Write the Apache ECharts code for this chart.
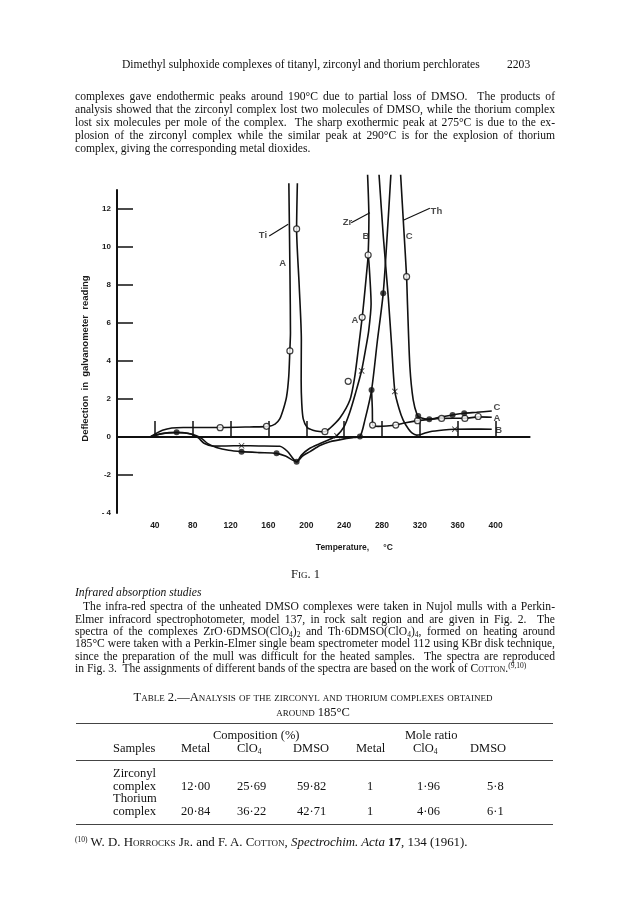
<!DOCTYPE html>
<html><head><meta charset="utf-8">
<script src="https://cdn.jsdelivr.net/npm/echarts@6/dist/echarts.min.js"></script>
<style>
html,body{margin:0;padding:0;background:#fff;}
#page{position:relative;width:624px;height:912px;overflow:hidden;font-family:"Liberation Serif","Times New Roman",serif;color:#111;}
#chart{position:absolute;left:0;top:0;width:624px;height:912px;}
.t{position:absolute;font-size:11.6px;line-height:13px;white-space:nowrap;}
.j{text-align:justify;text-align-last:justify;white-space:nowrap;}
.sc{font-variant:small-caps;}
.rule{position:absolute;left:76px;width:477px;height:0;border-top:1px solid #444;}
.tb{font-size:12.5px;}
.cap{font-size:12.5px;}
sub{font-size:7.5px;vertical-align:-2px;line-height:0;}
sup{font-size:7.5px;vertical-align:4px;line-height:0;}
</style></head>
<body>
<div id="page">
<div id="chart"></div>

<div class="t" style="top:58px;left:122px;">Dimethyl sulphoxide complexes of titanyl, zirconyl and thorium perchlorates</div>
<div class="t" style="top:58px;left:507px;">2203</div>

<div class="t j" style="top:90px;left:75px;width:480px;">complexes gave endothermic peaks around 190°C due to partial loss of DMSO.&nbsp; The products of</div>
<div class="t j" style="top:103px;left:75px;width:480px;">analysis showed that the zirconyl complex lost two molecules of DMSO, while the thorium complex</div>
<div class="t j" style="top:116px;left:75px;width:480px;">lost six molecules per mole of the complex.&nbsp; The sharp exothermic peak at 275°C is due to the ex-</div>
<div class="t j" style="top:129px;left:75px;width:480px;">plosion of the zirconyl complex while the similar peak at 290°C is for the explosion of thorium</div>
<div class="t" style="top:142px;left:75px;">complex, giving the corresponding metal dioxides.</div>

<div class="t sc cap" style="top:568px;left:291px;">Fig. 1</div>
<div class="t" style="top:586px;left:75px;font-style:italic;">Infrared absorption studies</div>
<div class="t j" style="top:600px;left:83px;width:472px;">The infra-red spectra of the unheated DMSO complexes were taken in Nujol mulls with a Perkin-</div>
<div class="t j" style="top:613px;left:75px;width:480px;">Elmer infracord spectrophotometer, model 137, in rock salt region and are given in Fig. 2.&nbsp; The</div>
<div class="t j" style="top:625px;left:75px;width:480px;">spectra of the complexes ZrO·6DMSO(ClO<sub>4</sub>)<sub>2</sub> and Th·6DMSO(ClO<sub>4</sub>)<sub>4</sub>, formed on heating around</div>
<div class="t j" style="top:637px;left:75px;width:480px;">185°C were taken with a Perkin-Elmer single beam spectrometer model 112 using KBr disk technique,</div>
<div class="t j" style="top:650px;left:75px;width:480px;">since the preparation of the mull was difficult for the heated samples.&nbsp; The spectra are reproduced</div>
<div class="t" style="top:662px;left:75px;">in Fig. 3.&nbsp; The assignments of different bands of the spectra are based on the work of <span class="sc">Cotton</span>.<sup>(9,10)</sup></div>

<div class="t sc cap" style="top:691px;left:75px;width:476px;text-align:center;">Table 2.—Analysis of the zirconyl and thorium complexes obtained</div>
<div class="t sc cap" style="top:706px;left:75px;width:476px;text-align:center;">around 185°C</div>
<div class="rule" style="top:723px;"></div>
<div class="t tb" style="top:729px;left:213px;">Composition (%)</div>
<div class="t tb" style="top:729px;left:405px;">Mole ratio</div>
<div class="t tb" style="top:742px;left:113px;">Samples</div>
<div class="t tb" style="top:742px;left:181px;">Metal</div>
<div class="t tb" style="top:742px;left:237px;">ClO<sub>4</sub></div>
<div class="t tb" style="top:742px;left:293px;">DMSO</div>
<div class="t tb" style="top:742px;left:356px;">Metal</div>
<div class="t tb" style="top:742px;left:413px;">ClO<sub>4</sub></div>
<div class="t tb" style="top:742px;left:470px;">DMSO</div>
<div class="rule" style="top:760px;"></div>
<div class="t tb" style="top:767px;left:113px;">Zirconyl</div>
<div class="t tb" style="top:780px;left:113px;">complex</div>
<div class="t tb" style="top:780px;left:181px;">12·00</div>
<div class="t tb" style="top:780px;left:237px;">25·69</div>
<div class="t tb" style="top:780px;left:297px;">59·82</div>
<div class="t tb" style="top:780px;left:367px;">1</div>
<div class="t tb" style="top:780px;left:417px;">1·96</div>
<div class="t tb" style="top:780px;left:487px;">5·8</div>
<div class="t tb" style="top:792px;left:113px;">Thorium</div>
<div class="t tb" style="top:805px;left:113px;">complex</div>
<div class="t tb" style="top:805px;left:181px;">20·84</div>
<div class="t tb" style="top:805px;left:237px;">36·22</div>
<div class="t tb" style="top:805px;left:297px;">42·71</div>
<div class="t tb" style="top:805px;left:367px;">1</div>
<div class="t tb" style="top:805px;left:417px;">4·06</div>
<div class="t tb" style="top:805px;left:487px;">6·1</div>
<div class="rule" style="top:824px;"></div>
<div class="t" style="top:836px;left:75px;font-size:12.9px;"><sup>(10)</sup> W. D. <span class="sc">Horrocks Jr.</span> and F. A. <span class="sc">Cotton</span>, <i>Spectrochim. Acta</i> <b>17</b>, 134 (1961).</div>
</div>

<script>
// ---- axis ticks ----
const xTickValues = [40, 80, 120, 160, 200, 240, 280, 320, 360, 400];
const yTickValues = [-2, 2, 4, 6, 8, 10, 12];
const yLabelValues = [-4, -2, 0, 2, 4, 6, 8, 10, 12];

// ---- curve A (open circles): Ti peak, rise and tail ----
const curveA_rise = [[35,0],[40,0.15],[48,0.35],[58,0.47],[70,0.5],[109,0.5],[140,0.53],[160,0.56],[167,0.68],[172,0.95],[176,1.5],[179.2,2.12],[181.5,3.2],[182.6,4.5],[183.3,5.5],[182.8,8.5],[181.6,13.35]];
const curveA_fall = [[190.6,13.35],[189.8,10.95],[192.5,8],[194.8,5.1],[194.6,3],[195.2,1.8],[196.8,0.95],[201,0.5],[207,0.36],[214,0.29],[219.7,0.28],[225,0.46],[235.5,1.0],[246.1,1.95],[251,3.1],[254.9,4.58],[259.1,6.3],[261,7.2],[263.5,8.5],[265.4,9.58],[266.2,11.5],[264.8,13.8]];
const curveA_tail = [[269,2.47],[269.8,1.5],[270.1,0.63],[276,0.56],[285,0.58],[294.6,0.63],[305,0.75],[317.6,0.86],[330,0.93],[343,0.98],[355,0.99],[367.6,0.98],[381.7,1.06],[396,1.04]];

// ---- curve B (crosses) ----
const curveB_low = [[35,0],[42,0.12],[50,0.2],[63,0.22],[78,0.16],[86,-0.05],[92,-0.33],[101.8,-0.48],[115,-0.47],[131.6,-0.46],[150,-0.47],[172,-0.49],[180,-0.75],[189.8,-1.3],[195,-0.95],[203,-0.62],[214,-0.36],[225,-0.12],[232,0.06],[240,0.55],[246,1.3],[252,2.3],[258.5,3.5],[263,4.7],[266,5.6],[268.5,7.0],[266.5,9.0],[265.4,9.6]];
const curveB_fall = [[276.9,13.8],[281.5,10.5],[286.6,7.4],[290.2,4.8],[293.6,2.4],[298,1.5],[302.4,0.89],[308,0.42],[312,0.2],[316.6,0.1],[322,0.15],[330.6,0.28],[345,0.37],[357,0.41],[375,0.42],[396,0.41]];

// ---- curve C (filled dots) ----
const curveC_low = [[35,0],[45,0.15],[55,0.23],[63,0.25],[75,0.2],[84,0.07],[90,-0.1],[96,-0.35],[105,-0.55],[118,-0.7],[131.6,-0.77],[150,-0.82],[168.6,-0.86],[178,-1.0],[189.8,-1.3],[196,-1.0],[204,-0.77],[214.4,-0.45],[225,-0.25],[240,-0.1],[250,-0.03],[256.7,0.02],[262,0.9],[269,2.47],[275,5.0],[281.3,7.56],[285.5,10.6],[289.4,13.8]];
const curveC_fall = [[299.7,13.8],[303,11],[306,8.44],[307,6.95],[309.5,3.7],[313,1.95],[317.2,1.16],[320,1.02],[330,0.93],[342,1.05],[354.6,1.16],[366.9,1.25],[380,1.3],[396,1.37]];

// ---- markers ----
const openCircles = [[109,0.49],[158,0.56],[182.7,4.53],[189.8,10.95],[219.7,0.28],[244.3,2.93],[259.1,6.3],[265.4,9.58],[306,8.44],[270.1,0.63],[294.6,0.63],[317.6,0.86],[343,0.98],[367.6,0.98],[381.7,1.08]];
const filledDots = [[63,0.25],[131.6,-0.77],[168.6,-0.86],[189.8,-1.3],[256.7,0.02],[269,2.47],[281.3,7.56],[318.3,1.1],[330,0.93],[354.6,1.16],[366.9,1.25]];
const crossMarks = [[131.6,-0.46],[232.5,0.06],[258.5,3.48],[293.6,2.4],[357,0.41]];

// ---- annotations ----
const noteNames = ['Ti','A','Zr','B','A','C','Th','C','A','B'];
const noteX = [154.2,175,243.6,263,251.4,308.8,337.5,401.5,401.5,403.2];
const noteY = [10.63,9.14,11.3,10.58,6.12,10.58,11.89,1.56,0.98,0.37];
const leaderTi = [[160.8,10.58],[180.9,11.2]];
const leaderZr = [[247.5,11.28],[267.2,11.8]];
const leaderTh = [[303.1,11.42],[330.6,12.04]];

const chart = echarts.init(document.getElementById('chart'), null, {renderer:'canvas'});
const INK = '#111';
const lab = {fontFamily:'Liberation Sans', fontWeight:'bold', fontSize:8.5, color:'#1a1a1a'};

function curve(data){
  return {type:'line', data:data, smooth:0.25, showSymbol:false, symbol:'none', clip:false, silent:true,
          lineStyle:{color:INK, width:1.6}, z:3};
}
function leader(data){
  return {type:'line', data:data, showSymbol:false, symbol:'none', clip:false, silent:true,
          lineStyle:{color:INK, width:1.1}, z:3};
}
const crossPath = 'path://M1,0 L5,4 L9,0 L10,1 L6,5 L10,9 L9,10 L5,6 L1,10 L0,9 L4,5 L0,1 Z';

chart.setOption({
  animation:false,
  backgroundColor:'transparent',
  grid:{left:117, top:190, right:94.4, bottom:399, containLabel:false},
  xAxis:{type:'value', min:0, max:436, interval:40,
    axisLine:{lineStyle:{color:INK, width:2}},
    axisTick:{inside:true, length:16, customValues:xTickValues, lineStyle:{color:INK, width:1.5}},
    axisLabel:Object.assign({customValues:xTickValues, margin:8}, lab),
    splitLine:{show:false},
    name:'Temperature,      °C', nameLocation:'middle', nameGap:30,
    nameTextStyle:Object.assign({padding:[0,0,0,62]}, lab)
  },
  yAxis:{type:'value', min:-4, max:13, interval:2,
    axisLine:{lineStyle:{color:INK, width:2}},
    axisTick:{inside:true, length:16, customValues:yTickValues, lineStyle:{color:INK, width:1.5}},
    axisLabel:Object.assign({customValues:yLabelValues, margin:6,
      formatter:function(v){ return v === -4 ? '- 4' : String(v); }}, lab, {fontSize:8}),
    splitLine:{show:false},
    name:'Deflection  in  galvanometer  reading', nameLocation:'middle', nameGap:26,
    nameTextStyle:Object.assign({padding:[0,14,0,0]}, lab, {fontSize:9.5})
  },
  series:[
    Object.assign(curve(curveA_rise), {markLine:{symbol:'none', silent:true, label:{show:false},
      lineStyle:{color:INK, width:1.5, type:'solid'}, data:[{yAxis:0}]}}),
    curve(curveA_fall), curve(curveA_tail),
    curve(curveB_low), curve(curveB_fall),
    curve(curveC_low), curve(curveC_fall),
    leader(leaderTi), leader(leaderZr), leader(leaderTh),
    {type:'scatter', data:openCircles, symbol:'circle', symbolSize:6, clip:false, silent:true,
      itemStyle:{color:'#fff', borderColor:INK, borderWidth:1.2}, z:5},
    {type:'scatter', data:filledDots, symbol:'circle', symbolSize:6, clip:false, silent:true,
      itemStyle:{color:INK}, z:5},
    {type:'scatter', data:crossMarks, symbol:crossPath, symbolSize:6, clip:false, silent:true,
      itemStyle:{color:INK}, z:5},
    {type:'scatter', symbolSize:0, clip:false, silent:true,
      data:noteNames.map((n,i)=>({name:n, value:[noteX[i], noteY[i]]})),
      label:Object.assign({show:true, position:'inside', formatter:'{b}'}, lab, {fontSize:9.5, color:'#1a1a1a'}), z:6}
  ]
});
</script>
</body></html>
